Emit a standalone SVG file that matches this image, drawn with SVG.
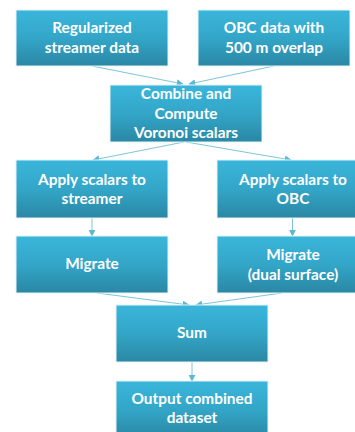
<svg xmlns="http://www.w3.org/2000/svg" width="355" height="432" viewBox="0 0 355 432">
<defs>
<linearGradient id="g" x1="0" y1="0" x2="0" y2="1">
<stop offset="0" stop-color="#3ab6db"/>
<stop offset="0.5" stop-color="#33a6c8"/>
<stop offset="1" stop-color="#2a87a4"/>
</linearGradient>
<marker id="a" viewBox="0 0 10 10" refX="9" refY="5" markerWidth="7" markerHeight="7" markerUnits="userSpaceOnUse" orient="auto">
<path d="M0,0 L10,5 L0,10 z" fill="#5fb8d0"/>
</marker>
<style>
.box{fill:url(#g);stroke:#e6f3f7;stroke-width:1}
.t{font-family:Lato,"Open Sans",sans-serif;font-weight:bold;font-size:15.4px;fill:#ffffff;text-anchor:middle}
.c{stroke:#7cc6da;stroke-width:1;fill:none;marker-end:url(#a)}
</style>
</defs>
<rect width="355" height="432" fill="#ffffff"/>
<g id="connectors">
<line class="c" x1="92" y1="66" x2="183" y2="84"/>
<line class="c" x1="274" y1="66" x2="189" y2="84"/>
<line class="c" x1="184" y1="142" x2="93" y2="160"/>
<line class="c" x1="186" y1="142" x2="291" y2="160"/>
<line class="c" x1="92" y1="218" x2="92" y2="236"/>
<line class="c" x1="292.5" y1="218" x2="292.5" y2="236"/>
<line class="c" x1="97" y1="293" x2="189" y2="305"/>
<line class="c" x1="282" y1="293" x2="196" y2="305"/>
<line class="c" x1="192" y1="362" x2="192" y2="381"/>
</g>
<g id="n1"><rect class="box" x="16" y="10" width="152" height="56"/><text class="t" x="92" y="33">Regularized</text><text class="t" x="92" y="53">streamer data</text></g>
<g id="n2"><rect class="box" x="198" y="10" width="152" height="56"/><text class="t" x="274" y="33">OBC data with</text><text class="t" x="274" y="53">500 m overlap</text></g>
<g id="n3"><rect class="box" x="110" y="85" width="152" height="57"/><text class="t" x="186" y="99">Combine and</text><text class="t" x="186" y="119">Compute</text><text class="t" x="186" y="138">Voronoi scalars</text></g>
<g id="n4"><rect class="box" x="16" y="160" width="152" height="58"/><text class="t" x="92" y="185">Apply scalars to</text><text class="t" x="92" y="204">streamer</text></g>
<g id="n5"><rect class="box" x="217" y="160" width="152" height="58"/><text class="t" x="293" y="185">Apply scalars to</text><text class="t" x="293" y="204">OBC</text></g>
<g id="n6"><rect class="box" x="16" y="236" width="152" height="57"/><text class="t" x="92" y="269">Migrate</text></g>
<g id="n7"><rect class="box" x="217" y="236" width="152" height="57"/><text class="t" x="293" y="260">Migrate</text><text class="t" x="293" y="280">(dual surface)</text></g>
<g id="n8"><rect class="box" x="116" y="305" width="152" height="57"/><text class="t" x="192" y="338">Sum</text></g>
<g id="n9"><rect class="box" x="116" y="381" width="152" height="57"/><text class="t" x="192" y="404">Output combined</text><text class="t" x="192" y="423">dataset</text></g>
</svg>
